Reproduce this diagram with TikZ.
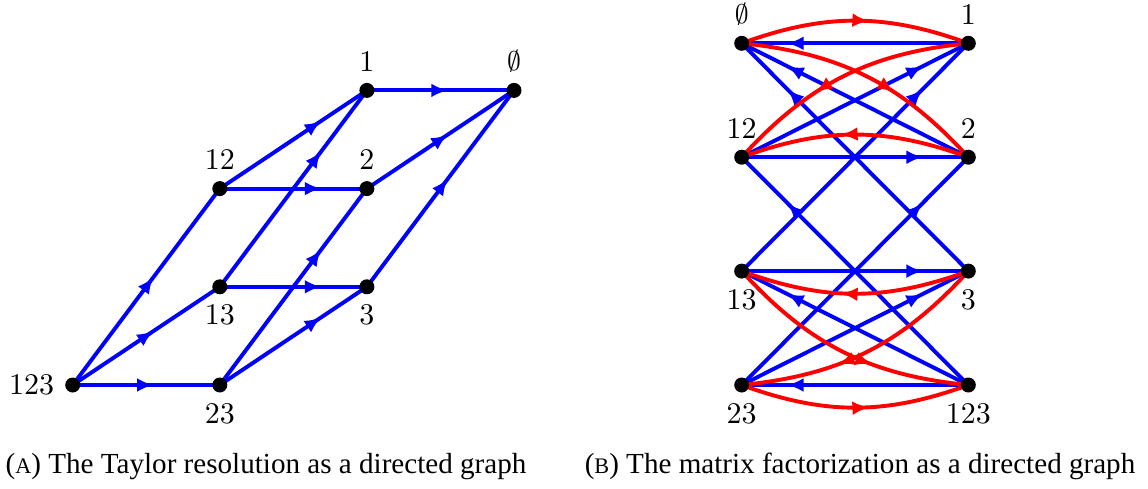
\documentclass[tikz,border=0pt]{standalone}
\usepackage{fontspec}
\newfontfamily\capfont{Liberation Serif}
\usetikzlibrary{decorations.markings,arrows.meta,backgrounds}
\tikzset{
  dot/.style={circle,fill=black,inner sep=0pt,minimum size=5pt},
  bl/.style={blue,line width=1.3pt},
  rd/.style={red,line width=1.3pt},
  arr/.style={postaction={decorate},decoration={markings,mark=at position #1 with {\arrow{Latex[length=5.5pt,width=4.6pt]}}}},
  captext/.style={font=\capfont\fontsize{9.7}{11.6}\selectfont,inner sep=0pt,anchor=base},
  emptylabel/.style={inner sep=0pt,label distance=#1,font=\fontsize{8.8}{10}\selectfont},
}
\newcommand{\smallA}[1]{{\fontsize{7.4}{9}\selectfont #1}}
\begin{document}
\begin{tikzpicture}[x=0.33333pt,y=0.33333pt]
\useasboundingbox (0,0) rectangle (1148,488);
% left graph
\node[dot,label=left:$123$]   (a123) at (72.7,103) {};
\node[dot,label=below:$23$]   (a23)  at (219.8,103) {};
\node[dot,label=below:$13$]   (a13)  at (219.8,201.2) {};
\node[dot,label=above:$12$]   (a12)  at (219.8,299.4) {};
\node[dot,label=below:$3$]    (a3)   at (366.9,201.2) {};
\node[dot,label=above:$2$]    (a2)   at (366.9,299.4) {};
\node[dot,label=above:$1$]    (a1)   at (366.9,397.6) {};
\node[dot,label={[emptylabel=3.2pt]above:$\emptyset$}] (aE) at (514,397.6) {};
% right graph
\node[dot,label={[emptylabel=3.2pt]above:$\emptyset$}] (bE) at (741.7,444.7) {};
\node[dot,label=above:$1$]    (b1)   at (968.3,444.7) {};
\node[dot,label=above:$12$]   (b12)  at (741.7,330.8) {};
\node[dot,label=above:$2$]    (b2)   at (968.3,330.8) {};
\node[dot,label=below:$13$]   (b13)  at (741.7,216.9) {};
\node[dot,label=below:$3$]    (b3)   at (968.3,216.9) {};
\node[dot,label=below:$23$]   (b23)  at (741.7,103) {};
\node[dot,label=below:$123$]  (b123) at (968.3,103) {};
\begin{pgfonlayer}{background}
% left edges
\draw[bl,arr=0.55] (a123.center) -- (a12.center);
\draw[bl,arr=0.55] (a123.center) -- (a13.center);
\draw[bl,arr=0.55] (a123.center) -- (a23.center);
\draw[bl,arr=0.69] (a12.center) -- (a1.center);
\draw[bl,arr=0.69] (a12.center) -- (a2.center);
\draw[bl,arr=0.69] (a13.center) -- (a1.center);
\draw[bl,arr=0.69] (a13.center) -- (a3.center);
\draw[bl,arr=0.69] (a23.center) -- (a2.center);
\draw[bl,arr=0.69] (a23.center) -- (a3.center);
\draw[bl,arr=0.55] (a1.center) -- (aE.center);
\draw[bl,arr=0.55] (a2.center) -- (aE.center);
\draw[bl,arr=0.55] (a3.center) -- (aE.center);
% right blue edges
\draw[bl,arr=0.8] (b1.center) -- (bE.center);
\draw[bl,arr=0.8] (b2.center) -- (bE.center);
\draw[bl,arr=0.8] (b3.center) -- (bE.center);
\draw[bl,arr=0.8] (b12.center) -- (b1.center);
\draw[bl,arr=0.8] (b13.center) -- (b1.center);
\draw[bl,arr=0.8] (b12.center) -- (b2.center);
\draw[bl,arr=0.8] (b23.center) -- (b2.center);
\draw[bl,arr=0.8] (b13.center) -- (b3.center);
\draw[bl,arr=0.8] (b23.center) -- (b3.center);
\draw[bl,arr=0.8] (b123.center) -- (b12.center);
\draw[bl,arr=0.8] (b123.center) -- (b13.center);
\draw[bl,arr=0.8] (b123.center) -- (b23.center);
% right red edges
\draw[rd,arr=0.56] (bE.center) to[bend left=20] (b1.center);
\draw[rd,arr=0.62] (bE.center) to[bend left=21] (b2.center);
\draw[rd,arr=0.62] (b1.center) to[bend right=21] (b12.center);
\draw[rd,arr=0.56] (b2.center) to[bend right=20] (b12.center);
\draw[rd,arr=0.56] (b3.center) to[bend left=20] (b13.center);
\draw[rd,arr=0.62] (b3.center) to[bend left=21] (b23.center);
\draw[rd,arr=0.62] (b13.center) to[bend right=21] (b123.center);
\draw[rd,arr=0.56] (b23.center) to[bend right=20] (b123.center);
\end{pgfonlayer}
% captions
\node[captext] (capA) at (266,14.7) {(\smallA{A}) The Taylor resolution as a directed graph};
\node[captext] (capB) at (860,14.7) {(\smallA{B}) The matrix factorization as a directed graph};
\end{tikzpicture}
\end{document}
